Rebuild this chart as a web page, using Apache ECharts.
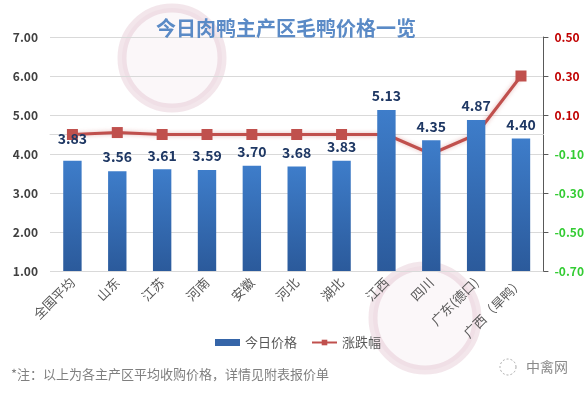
<!DOCTYPE html>
<html>
<head>
<meta charset="utf-8">
<script src="https://cdn.jsdelivr.net/npm/echarts@6/dist/echarts.min.js"></script>
<style>html,body{margin:0;padding:0;background:#fff}#c{width:587px;height:394px}</style>
</head>
<body>
<div id="c"></div>
<script>
const categories = ['全国平均','山东','江苏','河南','安徽','河北','湖北','江西','四川','广东(德口)','广西（旱鸭）'];
const prices = [3.83,3.56,3.61,3.59,3.70,3.68,3.83,5.13,4.35,4.87,4.40];
const changes = [0.00,0.01,0.00,0.00,0.00,0.00,0.00,0.00,-0.10,0.00,0.30];

const chart = echarts.init(document.getElementById('c'), null, {renderer:'canvas'});
const font = '"Microsoft YaHei","Noto Sans CJK SC",sans-serif';
chart.setOption({
  animation:false,
  backgroundColor:'#fff',
  textStyle:{fontFamily:font},
  title:{text:'今日肉鸭主产区毛鸭价格一览',left:281,textAlign:'center',top:13,
    textStyle:{fontSize:20,fontWeight:'bold',color:'#5A8AC6',fontFamily:font}},
  graphic:[
    {type:'circle',shape:{cx:172,cy:58,r:50},style:{fill:'rgba(225,190,205,0.12)',stroke:'rgba(200,140,165,0.22)',lineWidth:9},z:-1},
    {type:'circle',shape:{cx:425,cy:318,r:52},style:{fill:'rgba(225,190,205,0.12)',stroke:'rgba(200,140,165,0.22)',lineWidth:9},z:-1},
    {type:'text',left:11,top:368,style:{text:'*注：以上为各主产区平均收购价格，详情见附表报价单',fontSize:13,fill:'#7F7F7F',fontFamily:font}},
    {type:'text',left:526,top:360,style:{text:'中禽网',fontSize:14,fill:'#8A8A8A',fontFamily:font}},
    {type:'circle',shape:{cx:508,cy:367,r:8},style:{fill:'none',stroke:'#aaa',lineWidth:1,lineDash:[2,2]}}
  ],
  legend:{left:210,top:331,itemGap:14,
    textStyle:{fontSize:13,color:'#595959',fontFamily:font},
    data:[{name:'今日价格',icon:'rect',itemStyle:{color:'#3565A8'}},{name:'涨跌幅'}],
    itemWidth:25,itemHeight:7},
  grid:{left:50,right:40,top:37,bottom:123,containLabel:false},
  xAxis:{type:'category',data:categories,
    axisLine:{lineStyle:{color:'#D9D9D9'}},axisTick:{show:false},
    axisLabel:{rotate:45,fontSize:13,color:'#595959',interval:0,margin:9}},
  yAxis:[
    {type:'value',min:1,max:7,interval:1,
     axisLabel:{formatter:v=>v.toFixed(2),fontSize:12,fontWeight:'bold',color:'#404040',margin:12},
     axisLine:{show:false},axisTick:{show:false},
     splitLine:{lineStyle:{color:'#D9D9D9'}}},
    {type:'value',min:-0.7,max:0.5,interval:0.2,position:'right',
     axisLabel:{formatter:v=>v.toFixed(2),fontSize:12,fontWeight:'bold',margin:11,
       color:v=>(v>0?'#C00000':'#33CC33')},
     axisLine:{show:true,lineStyle:{color:'#595959'}},
     axisTick:{show:true,inside:false,length:5,lineStyle:{color:'#595959'}},
     splitLine:{show:false}}
  ],
  series:[
    {name:'今日价格',type:'bar',barWidth:'41%',
     data:prices.map((v,i)=>i===0?{value:v,label:{distance:15}}:v),
     itemStyle:{color:new echarts.graphic.LinearGradient(0,0,0,1,[{offset:0,color:'#3E7DCA'},{offset:1,color:'#2B5A9B'}])},
     label:{show:true,position:'top',distance:7,formatter:p=>p.value.toFixed(2),
       fontSize:14,fontWeight:'bold',color:'#1F3864'}},
    {name:'涨跌幅',type:'line',yAxisIndex:1,data:changes,z:1,
     symbol:'rect',symbolSize:11,
     lineStyle:{color:'#C0504D',width:3,shadowColor:'rgba(192,80,77,0.4)',shadowBlur:4},
     itemStyle:{color:'#C0504D'}}
  ]
});
</script>
</body>
</html>
